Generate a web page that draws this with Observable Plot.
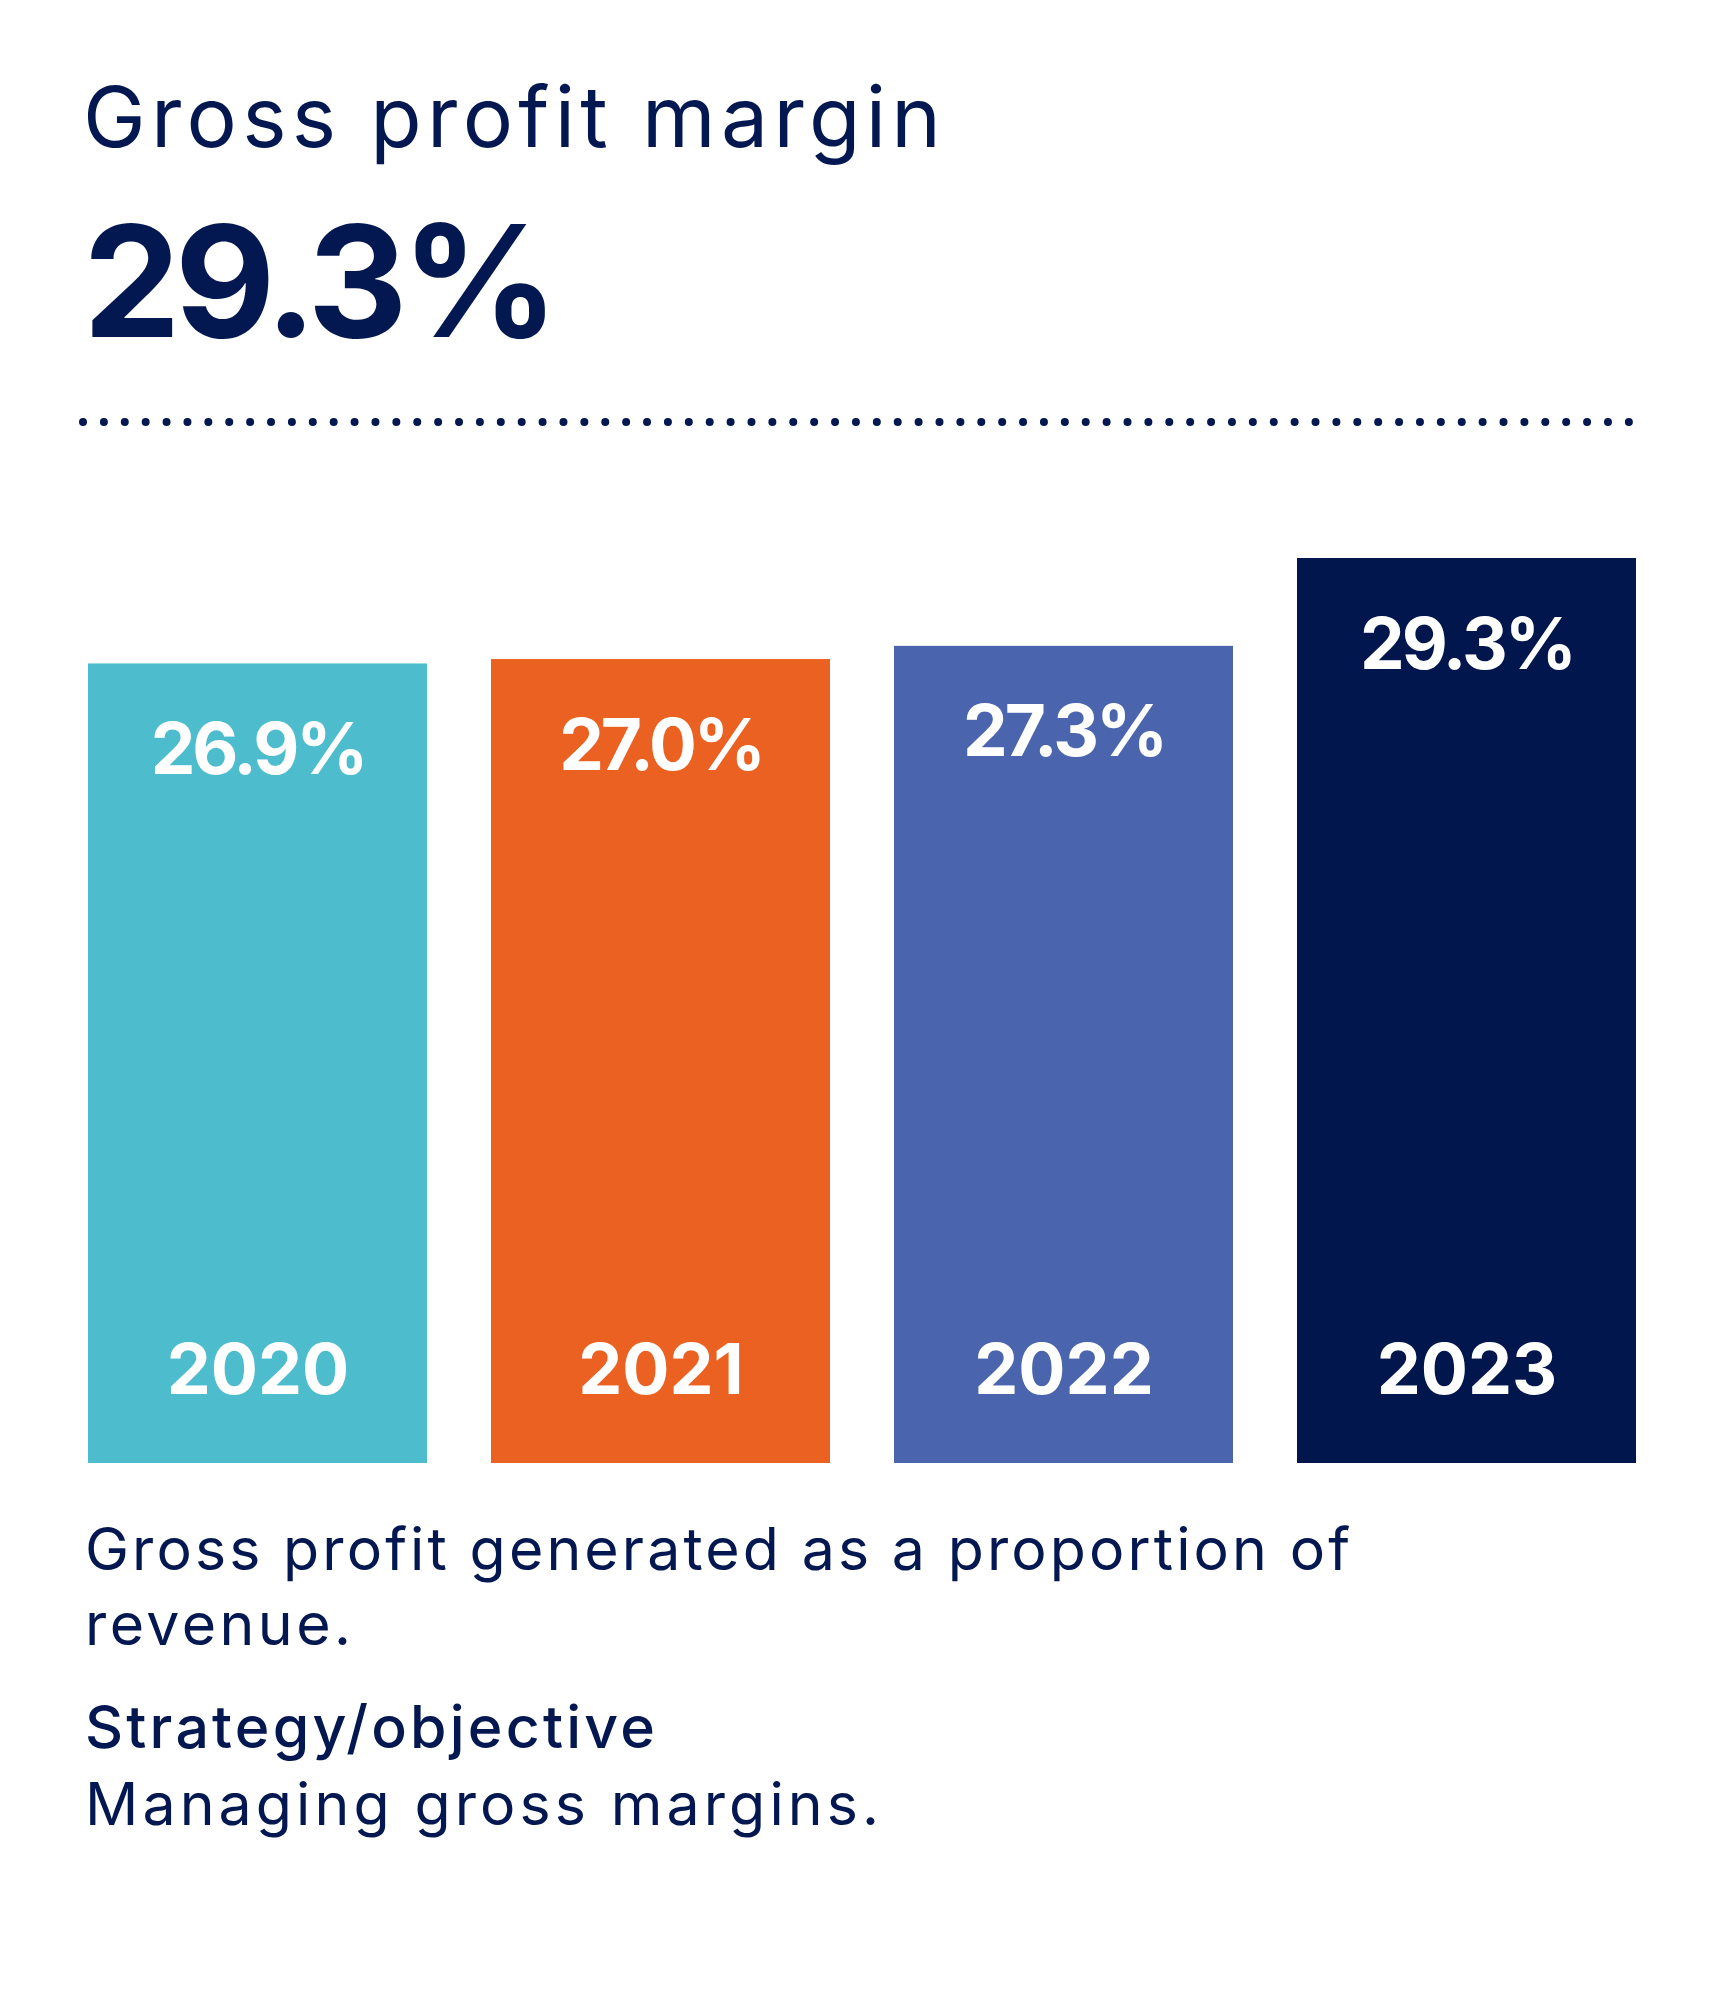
<!DOCTYPE html>
<html>
<head>
<meta charset="utf-8">
<script src="https://cdn.jsdelivr.net/npm/d3@7"></script>
<script src="https://cdn.jsdelivr.net/npm/@observablehq/plot@0.6"></script>
<style>
  html, body { margin: 0; padding: 0; background: #ffffff; }
  #page { position: relative; width: 1721px; height: 2001px; overflow: hidden; font-family: Inter, "Open Sans", sans-serif; color: #031750; }
  .t { position: absolute; left: 83px; white-space: nowrap; line-height: 1; margin: 0; }
  #title { font-size: 84px; font-weight: 400; }
  #kpi { font-size: 155px; font-weight: 700; }
  .cap { font-size: 59px; font-weight: 400; left: 85px; }
  #strat { font-weight: 500; }
  #dots { position: absolute; left: 0; top: 0; }
  #chart { position: absolute; left: 0; top: 500px; }
</style>
</head>
<body>
<div id="page">
  <h1 class="t" id="title">Gross profit margin</h1>
  <div class="t" id="kpi">29.3%</div>
  <svg id="dots" width="1721" height="460"><line x1="83" x2="1631" y1="422" y2="422" stroke="#031750" stroke-width="8" stroke-linecap="round" stroke-dasharray="0 20.89"/></svg>
  <div id="chart"></div>
  <p class="t cap" id="cap1">Gross profit generated as a proportion of</p>
  <p class="t cap" id="cap2">revenue.</p>
  <p class="t cap" id="strat">Strategy/objective</p>
  <p class="t cap" id="manage">Managing gross margins.</p>
</div>
<script>
// ---- data ----
const years = ["2020", "2021", "2022", "2023"];
const margins = [26.9, 27.0, 27.3, 29.3];
const barColors = ["#4DBDCD", "#EB6121", "#4A64AD", "#00164D"];
const baseValue = 8.7; // visual baseline of the bars (bars are not zero-based)

const data = years.map((year, i) => ({ year, value: margins[i] }));

const chart = Plot.plot({
  width: 1721,
  height: 1000,
  marginLeft: 87,
  marginRight: 85,
  marginTop: 58,
  marginBottom: 37,
  style: { background: "transparent", overflow: "visible" },
  x: { domain: years, paddingInner: 0.16, paddingOuter: 0, axis: null },
  y: { domain: [baseValue, 29.3], axis: null },
  color: { domain: years, range: barColors },
  marks: [
    Plot.barY(data, { x: "year", y1: () => baseValue, y2: "value", fill: "year" }),
    Plot.text(data, {
      x: "year", y: "value",
      text: d => d.value.toFixed(1) + "%",
      fill: "white", fontSize: 71, fontWeight: 700, fontFamily: "Inter",
      lineAnchor: "bottom", dy: 110
    }),
    Plot.text(data, {
      x: "year", y: () => baseValue,
      text: "year",
      fill: "white", fontSize: 70, fontWeight: 700, fontFamily: "Inter",
      lineAnchor: "bottom", dy: -70
    })
  ]
});
// tighten the value labels slightly (Montserrat-like width)
const textGroups = chart.querySelectorAll('g[aria-label="text"]');
if (textGroups[0]) textGroups[0].setAttribute("letter-spacing", "-3");
document.getElementById("chart").appendChild(chart);

// ---- place text blocks by baseline and fit widths ----
function fitWidth(id, target) {
  const el = document.getElementById(id);
  el.style.letterSpacing = "0px";
  const w = el.getBoundingClientRect().width;
  const n = el.textContent.length;
  el.style.letterSpacing = ((target - w) / Math.max(1, n - 1)) + "px";
}
function placeAt(id, baseline) {
  const el = document.getElementById(id);
  el.style.top = "0px";
  const probe = document.createElement("span");
  probe.style.cssText = "display:inline-block;width:0;height:0;vertical-align:baseline";
  el.appendChild(probe);
  const b = probe.getBoundingClientRect().top - el.getBoundingClientRect().top;
  probe.remove();
  el.style.top = (baseline - b) + "px";
}
function layout() {
  fitWidth("title", 858);
  fitWidth("kpi", 476);
  fitWidth("cap1", 1265);
  fitWidth("cap2", 266);
  fitWidth("strat", 570);
  fitWidth("manage", 794);
  placeAt("title", 147);
  placeAt("kpi", 337);
  placeAt("cap1", 1570);
  placeAt("cap2", 1645);
  placeAt("strat", 1748);
  placeAt("manage", 1825);
}
layout();
if (document.fonts && document.fonts.ready) document.fonts.ready.then(layout);
</script>
</body>
</html>
